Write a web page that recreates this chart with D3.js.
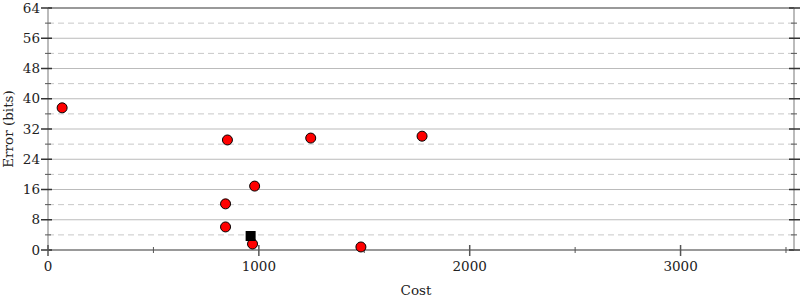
<!DOCTYPE html>
<html>
<head>
<meta charset="utf-8">
<script src="https://cdn.jsdelivr.net/npm/d3@7"></script>
<style>
  body { margin: 0; background: #fff; }
  text { font-family: "DejaVu Serif", serif; fill: #222; }
</style>
</head>
<body>
<div id="chart"></div>
<script>
// data
let costs  = [67, 851, 1246, 1774, 980, 842, 842, 970, 1484];
let errors = [37.6, 29.1, 29.6, 30.1, 16.9, 12.2, 6.1, 1.6, 0.8];
let startCost = [961];
let startError = [3.7];

let yMajor = [0, 8, 16, 24, 32, 40, 48, 56, 64];
let yMinor = [4, 12, 20, 28, 36, 44, 52, 60];
let xMajor = [0, 1000, 2000, 3000];
let xMinor = [500, 1500, 2500, 3500];

let margin = {top: 8, right: 6, bottom: 50, left: 48},
    width = 800 - margin.left - margin.right,
    height = 300 - margin.top - margin.bottom;

let x = d3.scaleLinear().domain([0, 3538]).range([0, width]);
let y = d3.scaleLinear().domain([0, 64]).range([height, 0]);

let svg = d3.select("#chart").append("svg")
    .attr("width", 800)
    .attr("height", 300)
    .append("g")
    .attr("transform", "translate(" + margin.left + "," + margin.top + ")");

// grid
svg.selectAll(".grid-major").data(yMajor.filter(d => d > 0 && d < 64)).enter().append("line")
    .attr("x1", 0).attr("x2", width)
    .attr("y1", d => y(d)).attr("y2", d => y(d))
    .attr("stroke", d => d == 32 ? "#ddd" : "#bbb")
    .attr("stroke-width", d => d == 32 ? 2 : 1);

svg.selectAll(".grid-minor").data(yMinor).enter().append("line")
    .attr("x1", 0).attr("x2", width)
    .attr("y1", d => y(d)).attr("y2", d => y(d))
    .attr("stroke", "#c8c8c8")
    .attr("stroke-dasharray", "6,4");

// frame lines
svg.append("line").attr("x1", 0).attr("x2", width).attr("y1", y(64)).attr("y2", y(64))
    .attr("stroke", "#999").attr("stroke-width", 2);
svg.append("line").attr("x1", 0).attr("x2", width).attr("y1", y(0)).attr("y2", y(0))
    .attr("stroke", "#999").attr("stroke-width", 2);
svg.append("line").attr("x1", 0).attr("x2", 0).attr("y1", 0).attr("y2", height)
    .attr("stroke", "#bbb").attr("stroke-width", 2);
svg.append("line").attr("x1", width).attr("x2", width).attr("y1", 0).attr("y2", height)
    .attr("stroke", "#bbb").attr("stroke-width", 2);

// y axis ticks left
let yAxisLeft = svg.append("g");
yAxisLeft.selectAll(".tk").data(yMajor).enter().append("line")
    .attr("x1", -7).attr("x2", 4)
    .attr("y1", d => y(d)).attr("y2", d => y(d))
    .attr("stroke", "#333").attr("stroke-width", 1.5);
yAxisLeft.selectAll(".mt").data(yMinor).enter().append("line")
    .attr("x1", -3).attr("x2", 3)
    .attr("y1", d => y(d)).attr("y2", d => y(d))
    .attr("stroke", "#555").attr("stroke-width", 1);
yAxisLeft.selectAll("text").data(yMajor).enter().append("text")
    .attr("x", -8).attr("y", d => y(d))
    .attr("dy", "0.35em")
    .attr("text-anchor", "end")
    .style("font-size", "13.5px")
    .text(d => d);

// y axis ticks right
let yAxisRight = svg.append("g").attr("transform", "translate(" + width + ",0)");
yAxisRight.selectAll(".tk").data(yMajor).enter().append("line")
    .attr("x1", -5).attr("x2", 6)
    .attr("y1", d => y(d)).attr("y2", d => y(d))
    .attr("stroke", "#333").attr("stroke-width", 1.5);
yAxisRight.selectAll(".mt").data(yMinor).enter().append("line")
    .attr("x1", -3).attr("x2", 3)
    .attr("y1", d => y(d)).attr("y2", d => y(d))
    .attr("stroke", "#555").attr("stroke-width", 1);

// x axis
let xAxis = svg.append("g").attr("transform", "translate(0," + height + ")");
xAxis.selectAll(".tk").data(xMajor).enter().append("line")
    .attr("x1", d => x(d)).attr("x2", d => x(d))
    .attr("y1", -5).attr("y2", 6)
    .attr("stroke", "#555").attr("stroke-width", 1.5);
xAxis.selectAll(".mt").data(xMinor).enter().append("line")
    .attr("x1", d => x(d)).attr("x2", d => x(d))
    .attr("y1", -3).attr("y2", 3)
    .attr("stroke", "#555").attr("stroke-width", 1);
xAxis.selectAll("text").data(xMajor).enter().append("text")
    .attr("x", d => x(d)).attr("y", 21)
    .attr("text-anchor", "middle")
    .style("font-size", "13.5px")
    .text(d => d);

// axis labels
svg.append("text")
    .attr("x", width / 2 - 5).attr("y", height + 45)
    .attr("text-anchor", "middle")
    .style("font-size", "13.5px")
    .text("Cost");
svg.append("text")
    .attr("transform", "translate(" + (-35) + "," + (height / 2) + ") rotate(-90)")
    .attr("text-anchor", "middle")
    .style("font-size", "13.5px")
    .text("Error (bits)");

// points
let pts = costs.map((c, i) => ({cost: c, error: errors[i]}));
svg.selectAll(".pt").data(pts).enter().append("circle")
    .attr("cx", d => x(d.cost))
    .attr("cy", d => y(d.error))
    .attr("r", 5)
    .attr("fill", "red")
    .attr("stroke", "#000")
    .attr("stroke-width", 1);

// start program
let starts = startCost.map((c, i) => ({cost: c, error: startError[i]}));
svg.selectAll(".start").data(starts).enter().append("rect")
    .attr("x", d => x(d.cost) - 5)
    .attr("y", d => y(d.error) - 5)
    .attr("width", 10).attr("height", 10)
    .attr("fill", "#000");
</script>
</body>
</html>
